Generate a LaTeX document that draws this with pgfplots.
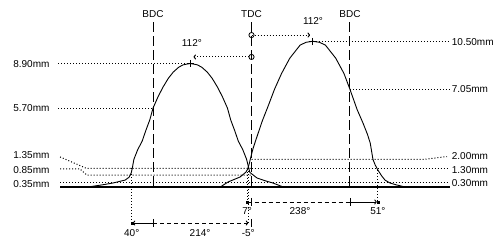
\documentclass[border=0pt]{standalone}
\usepackage{fontspec}
\setmainfont{Liberation Sans}
\usepackage{pgfplots}
\pgfplotsset{compat=1.18}
\usetikzlibrary{arrows.meta}

\begin{document}
\begin{tikzpicture}[
  dt/.style={line width=1pt, dash pattern=on 1pt off 2pt},
  dsh/.style={line width=0.9pt, dash pattern=on 4pt off 3pt},
  lbl/.style={font=\fontsize{10}{12}\selectfont, inner sep=0pt},
  tip/.style={-{To[length=2.5pt,width=5pt]}},
  dv/.style={line width=1pt, dash pattern=on 10pt off 4pt},
]
\begin{axis}[scale only axis, width=500pt, height=240pt,
  xmin=-459.8, xmax=454.3, ymin=-3.827, ymax=13.502,
  hide axis, clip=false]
\path (rel axis cs:0,0) rectangle (rel axis cs:1,1);

% baseline
\draw[line width=1.1pt] (-350,0) -- (362.9,0);

% dotted level lines, left
\draw[dt] (-353.7,8.90) -- (-112,8.90);
\draw[dt] (-353.7,5.70) -- (-180,5.70);
\draw[dt] (-350,2.17) -- (-302,1.35) -- (0,1.35);
\draw[dt] (-350,1.30) -- (-313.5,1.30) -- (-300.7,0.85) -- (0,0.85);
\draw[dt] (-350,0.35) -- (0,0.35);
% dotted level lines, right
\draw[dt] (112,10.50) -- (362.9,10.50);
\draw[dt] (180,7.05) -- (362.9,7.05);
\draw[dt] (0,2.00) -- (317,2.00) -- (357.4,2.20);
\draw[dt] (0,1.30) -- (357.4,1.30);
\draw[dt] (0,0.30) -- (357.4,0.30);

% BDC / TDC dashed verticals
\draw[dv] (-180,11.91) -- (-180,0);
\draw[dv] (0,11.91) -- (0,0);
\draw[dv] (180,11.91) -- (180,0);
\node[lbl] at (-180,12.49) {BDC};
\node[lbl] at (0,12.49) {TDC};
\node[lbl] at (180,12.49) {BDC};

% exhaust lift curve
\addplot[black, line width=0.9pt] coordinates {
(-299,0) (-275,0.14) (-253,0.29) (-231,0.5) (-224,0.7) (-220,1.0)
(-218,1.35) (-215,2.0) (-208,2.7) (-200,3.3) (-193,4.1) (-186,4.84)
(-180,5.70) (-171,6.5) (-162,7.2) (-152,7.85) (-143,8.3) (-133,8.65)
(-125,8.82) (-112,8.92) (-99,8.82) (-91,8.65) (-81,8.3) (-72,7.85)
(-62,7.2) (-53,6.5) (-44,5.70) (-38,4.84) (-31,4.1) (-24,3.3)
(-16,2.7) (-9,2.0) (-5,1.35) (-3,1.05) (2,0.9) (10,0.65) (25,0.45)
(39,0.29) (58,0)
};
% intake lift curve
\addplot[black, line width=0.9pt] coordinates {
(-57,0) (-43,0.36) (-21,0.72) (-10,1.08) (-7,1.30) (-4,1.7) (-1,2.2)
(3,2.8) (8,3.4) (14,4.1) (20,4.8) (30,5.8) (42,7.05) (55,8.2)
(70,9.3) (89,10.25) (100,10.45) (112,10.52) (124,10.45) (135,10.25)
(154,9.3) (169,8.2) (180,7.05) (193,5.6) (204,4.6) (212,3.8)
(217,3.18) (222,2.0) (226,1.6) (231,1.23) (238,0.8) (244,0.5)
(253,0.29) (265,0.15) (281,0)
};

% peak marks
\addplot[only marks, mark=+, mark size=3.5pt, mark options={line width=0.9pt}]
  coordinates {(-112,8.92) (112,10.52)};
\node[lbl] at (-109,10.40) {112°};
\node[lbl] at (112.4,11.99) {112°};

% dotted arrows from TDC to peaks
\draw[dt, tip] (0,9.39) -- (-106,9.39);
\draw[dt, tip] (0,10.97) -- (107,10.97);
\addplot[only marks, mark=o, mark size=2.6pt, mark options={fill=white, line width=0.8pt}]
  coordinates {(0,10.97) (0,9.39)};

% left labels
\node[lbl, anchor=east] at (-369,8.90) {8.90mm};
\node[lbl, anchor=east] at (-369,5.70) {5.70mm};
\node[lbl, anchor=east] at (-369,2.31) {1.35mm};
\node[lbl, anchor=east] at (-369,1.23) {0.85mm};
\node[lbl, anchor=east] at (-369,0.22) {0.35mm};
% right labels
\node[lbl, anchor=west] at (366,10.50) {10.50mm};
\node[lbl, anchor=west] at (366,7.05) {7.05mm};
\node[lbl, anchor=west] at (366,2.24) {2.00mm};
\node[lbl, anchor=west] at (366,1.23) {1.30mm};
\node[lbl, anchor=west] at (366,0.29) {0.30mm};

% dotted verticals down to duration arrows
\draw[dt] (-219,1.35) -- (-219,-2.60);
\draw[dt] (-5,1.35) -- (-5,-2.60);
\draw[dt] (-7,1.30) -- (-7,-1.08);
\draw[dt] (231,1.23) -- (231,-1.08);

% exhaust duration arrow
\draw[line width=0.9pt, tip] (-180,-2.60) -- (-217,-2.60);
\draw[dsh, tip] (-180,-2.60) -- (-6,-2.60);
\draw[line width=0.9pt] (-180,-2.31) -- (-180,-2.89);
\draw[line width=0.9pt] (0,-2.31) -- (0,-2.89);
% intake duration arrow
\draw[dsh] (-7,-1.08) -- (180,-1.08);
\draw[line width=0.9pt, tip] (180,-1.08) -- (229,-1.08);
\draw[line width=0.9pt] (0,-0.79) -- (0,-1.37);
\draw[line width=0.9pt] (180,-0.79) -- (180,-1.37);
\addplot[only marks, mark=square*, mark size=1pt]
  coordinates {(-219,-2.60) (-7,-1.08) (231,-1.08)};

% duration labels
\node[lbl] at (-219,-3.32) {40°};
\node[lbl] at (-94,-3.32) {214°};
\node[lbl] at (-6,-3.32) {-5°};
\node[lbl] at (-8,-1.73) {7°};
\node[lbl] at (88.7,-1.73) {238°};
\node[lbl] at (231,-1.73) {51°};
\end{axis}
\end{tikzpicture}
\end{document}
